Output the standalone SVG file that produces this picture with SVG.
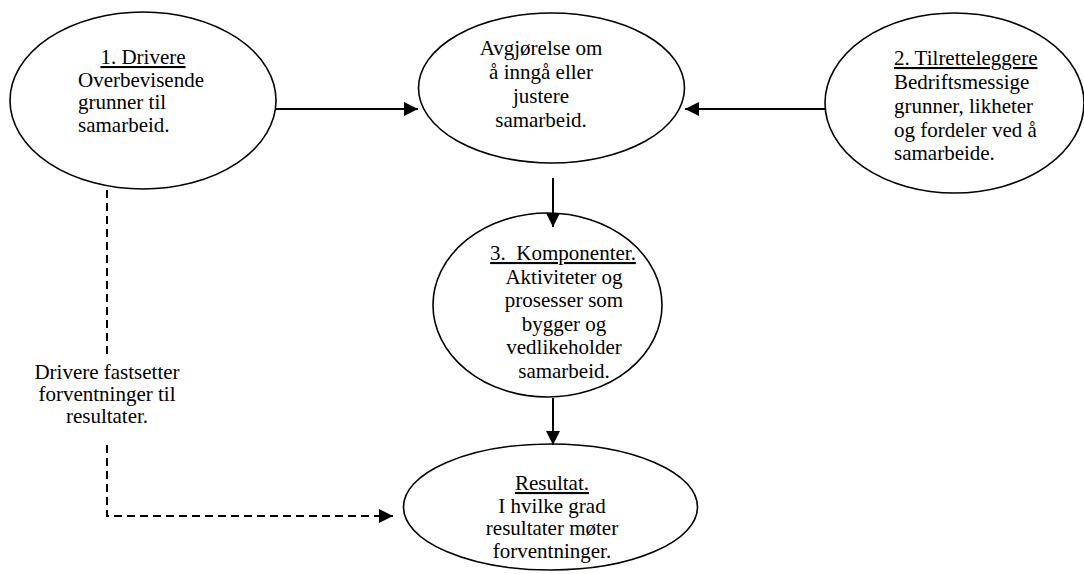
<svg xmlns="http://www.w3.org/2000/svg" width="1084" height="574" viewBox="0 0 1084 574">
  <style>
    .node ellipse { fill: #ffffff; stroke: #000000; stroke-width: 1.6; }
    .edge { stroke: #000000; stroke-width: 2; fill: none; }
    .dash { stroke-dasharray: 8 5; }
  </style>
  <defs>
    <marker id="arrow" viewBox="0 0 10 10" refX="10" refY="5" markerWidth="7.5" markerHeight="7" markerUnits="strokeWidth" orient="auto">
      <path d="M0,0 L10,5 L0,10 Z" fill="#000000"/>
    </marker>
  </defs>

  <rect width="1084" height="574" fill="#ffffff"/>

  <!-- 1. Drivere -->
  <g id="node-drivere" class="node">
    <ellipse cx="143" cy="100.5" rx="133" ry="88.5"/>
    <text font-family="Liberation Serif" font-size="21" text-anchor="middle" text-decoration="underline" x="143" y="64">1. Drivere</text>
    <text font-family="Liberation Serif" font-size="21" x="78" y="86.5">Overbevisende</text>
    <text font-family="Liberation Serif" font-size="21" x="78" y="109">grunner til</text>
    <text font-family="Liberation Serif" font-size="21" x="78" y="131.5">samarbeid.</text>
  </g>

  <!-- Avgjørelse -->
  <g id="node-avgjorelse" class="node">
    <ellipse cx="551.5" cy="88" rx="133" ry="75"/>
    <text font-family="Liberation Serif" font-size="21" text-anchor="middle" x="541" y="55">Avgjørelse om</text>
    <text font-family="Liberation Serif" font-size="21" text-anchor="middle" x="541" y="79">å inngå eller</text>
    <text font-family="Liberation Serif" font-size="21" text-anchor="middle" x="541" y="103">justere</text>
    <text font-family="Liberation Serif" font-size="21" text-anchor="middle" x="541" y="127">samarbeid.</text>
  </g>

  <!-- 2. Tilretteleggere -->
  <g id="node-tilretteleggere" class="node">
    <ellipse cx="954.5" cy="103" rx="129.5" ry="90"/>
    <text font-family="Liberation Serif" font-size="21" text-decoration="underline" x="894" y="65">2. Tilretteleggere</text>
    <text font-family="Liberation Serif" font-size="21" x="894" y="89">Bedriftsmessige</text>
    <text font-family="Liberation Serif" font-size="21" x="894" y="113">grunner, likheter</text>
    <text font-family="Liberation Serif" font-size="21" x="894" y="136.5">og fordeler ved å</text>
    <text font-family="Liberation Serif" font-size="21" x="894" y="160">samarbeide.</text>
  </g>

  <!-- 3. Komponenter -->
  <g id="node-komponenter" class="node">
    <ellipse cx="547.5" cy="305" rx="114.5" ry="92"/>
    <text font-family="Liberation Serif" font-size="21" text-anchor="middle" text-decoration="underline" xml:space="preserve" x="563" y="260">3.  Komponenter.</text>
    <text font-family="Liberation Serif" font-size="21" text-anchor="middle" x="564" y="283.5">Aktiviteter og</text>
    <text font-family="Liberation Serif" font-size="21" text-anchor="middle" x="564" y="307">prosesser som</text>
    <text font-family="Liberation Serif" font-size="21" text-anchor="middle" x="564" y="330.5">bygger og</text>
    <text font-family="Liberation Serif" font-size="21" text-anchor="middle" x="564" y="354">vedlikeholder</text>
    <text font-family="Liberation Serif" font-size="21" text-anchor="middle" x="564" y="377.5">samarbeid.</text>
  </g>

  <!-- Resultat -->
  <g id="node-resultat" class="node">
    <ellipse cx="550.5" cy="507" rx="147" ry="63"/>
    <text font-family="Liberation Serif" font-size="21" text-anchor="middle" text-decoration="underline" x="552" y="490">Resultat.</text>
    <text font-family="Liberation Serif" font-size="21" text-anchor="middle" x="552" y="512.5">I hvilke grad</text>
    <text font-family="Liberation Serif" font-size="21" text-anchor="middle" x="552" y="535">resultater møter</text>
    <text font-family="Liberation Serif" font-size="21" text-anchor="middle" x="552" y="558">forventninger.</text>
  </g>

  <!-- connectors, drawn last so arrowheads sit on top of the ellipses -->
  <g id="connectors">
    <line class="edge" x1="276" y1="109" x2="418" y2="109" marker-end="url(#arrow)"/>
    <line class="edge" x1="825" y1="109" x2="685" y2="109" marker-end="url(#arrow)"/>
    <line class="edge" x1="553" y1="178" x2="553" y2="227" marker-end="url(#arrow)"/>
    <line class="edge" x1="553" y1="398" x2="553" y2="445" marker-end="url(#arrow)"/>
    <polyline class="edge dash" points="107,190 107,358"/>
    <polyline class="edge dash" points="107,445 107,516 393,516" marker-end="url(#arrow)"/>
    <g id="edge-label">
      <text font-family="Liberation Serif" font-size="21" text-anchor="middle" x="107" y="379">Drivere fastsetter</text>
      <text font-family="Liberation Serif" font-size="21" text-anchor="middle" x="107" y="401">forventninger til</text>
      <text font-family="Liberation Serif" font-size="21" text-anchor="middle" x="107" y="423">resultater.</text>
    </g>
  </g>
</svg>
